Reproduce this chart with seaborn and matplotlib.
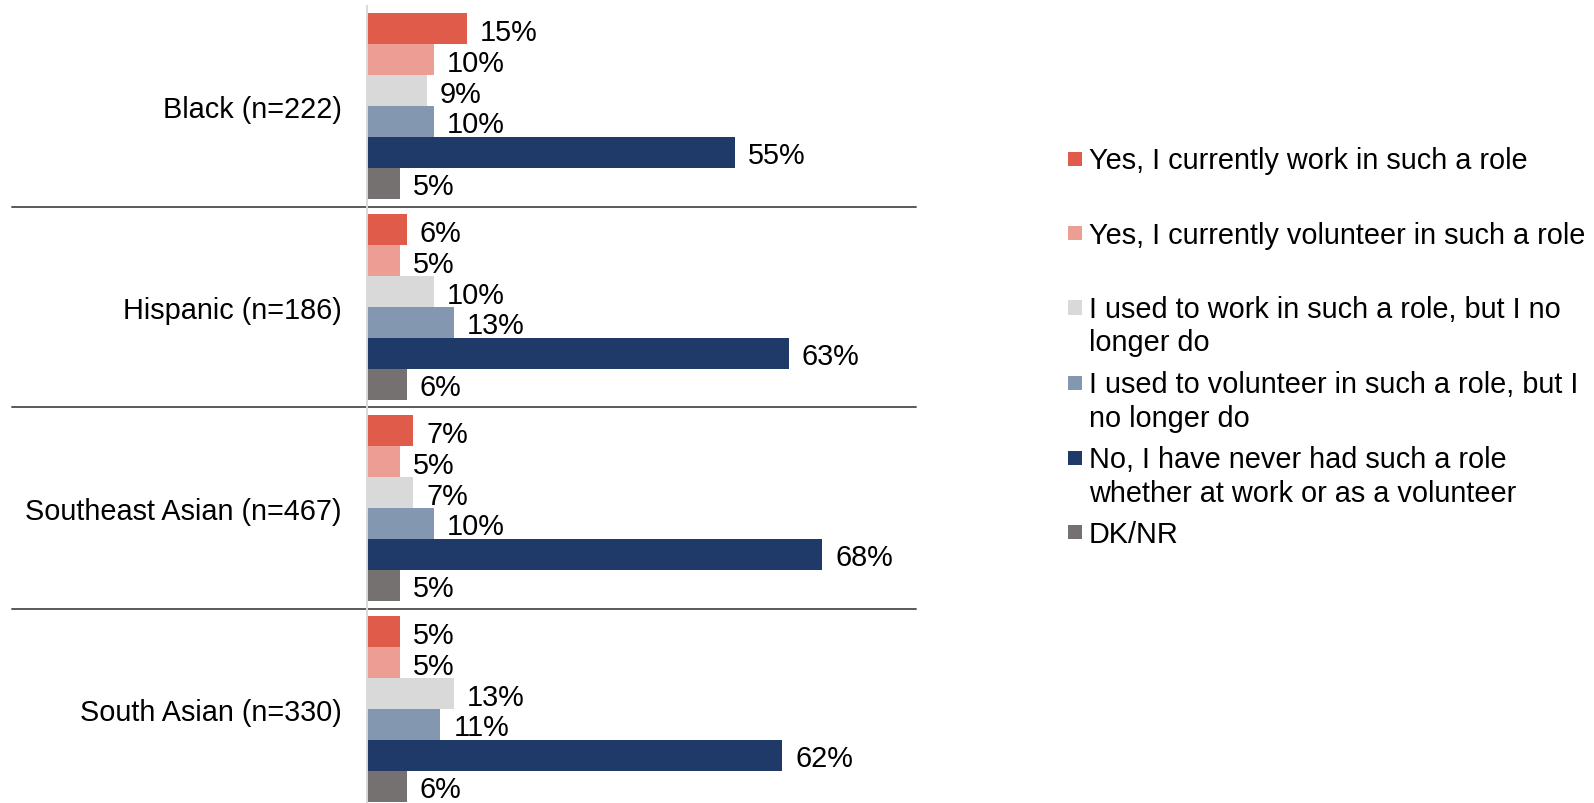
import matplotlib
matplotlib.use("Agg")
import matplotlib.pyplot as plt
from matplotlib.patches import Rectangle
import pandas as pd
import seaborn as sns

# Survey groups (row labels) and answer options
groups = ["Black (n=222)", "Hispanic (n=186)", "Southeast Asian (n=467)", "South Asian (n=330)"]
responses = [
    "Yes, I currently work in such a role",
    "Yes, I currently volunteer in such a role",
    "I used to work in such a role, but I no\nlonger do",
    "I used to volunteer in such a role, but I\nno longer do",
    "No, I have never had such a role\nwhether at work or as a volunteer",
    "DK/NR",
]

# Percent of respondents per answer, one list per group
black = [15, 10, 9, 10, 55, 5]
hispanic = [6, 5, 10, 13, 63, 6]
southeast_asian = [7, 5, 7, 10, 68, 5]
south_asian = [5, 5, 13, 11, 62, 6]

colors = ["#E15B4A", "#EC9D94", "#D9D9D9", "#8497B0", "#1F3A68", "#767171"]

rows = []
for g, vals in zip(groups, [black, hispanic, southeast_asian, south_asian]):
    for r, v in zip(responses, vals):
        rows.append({"group": g, "response": r, "value": v})
df = pd.DataFrame(rows)

sns.set_theme(style="white")
plt.rcParams["font.family"] = ["Liberation Sans", "DejaVu Sans"]
FS = 20.8

W, H = 1594, 804
fig = plt.figure(figsize=(W / 100, H / 100), dpi=100)
ax_left, ax_right = 366.5, 916
ax_top, ax_bot = 6.5, 810.5
ax = fig.add_axes([ax_left / W, 1 - ax_bot / H, (ax_right - ax_left) / W, (ax_bot - ax_top) / H])

sns.barplot(
    data=df, y="group", x="value", hue="response", orient="h",
    order=groups, hue_order=responses, palette=colors,
    width=0.925, gap=0, saturation=1, linewidth=0, legend=False, ax=ax,
)

ax.set_xlim(0, 82)
ax.set_ylim(3.5, -0.5)
ax.set_xlabel("")
ax.set_ylabel("")
ax.set_xticks([])
ax.tick_params(axis="y", length=0, pad=18, labelsize=FS, labelcolor="#000000")
for t in ax.get_yticklabels():
    t.set_va("center_baseline")
for s in ["top", "right", "bottom"]:
    ax.spines[s].set_visible(False)
ax.spines["left"].set_color("#D9D9D9")
ax.spines["left"].set_linewidth(1.4)

# Value labels at the end of each bar
for cont in ax.containers:
    texts = ax.bar_label(cont, labels=[f"{int(round(b.get_width()))}%" for b in cont],
                         padding=9.5, fontsize=FS, color="#000000")
    for t in texts:
        t.set_va("center_baseline")

# Separator lines between groups, reaching under the row labels
sep_x0 = (12 - ax_left) / (ax_right - ax_left)
for y in [0.5, 1.5, 2.5]:
    ax.axhline(y, xmin=sep_x0, xmax=1, color="#595959", lw=1.4, clip_on=False)

# Legend on the right
legend_tops = [158.5, 232.5, 307.0, 382.3, 457.5, 531.7]
line_step = 33.5
sq = 14.3
for label, col, yc in zip(responses, colors, legend_tops):
    fig.add_artist(Rectangle((1068 / W, 1 - (yc + 1.5 + sq / 2) / H), sq / W, sq / H,
                             transform=fig.transFigure, facecolor=col, edgecolor="none"))
    for k, line in enumerate(label.split("\n")):
        fig.text(1089 / W, 1 - (yc + k * line_step) / H, line, fontsize=FS,
                 va="center_baseline", ha="left", color="#000000")

fig.savefig("out.png", dpi=100, facecolor="white")
